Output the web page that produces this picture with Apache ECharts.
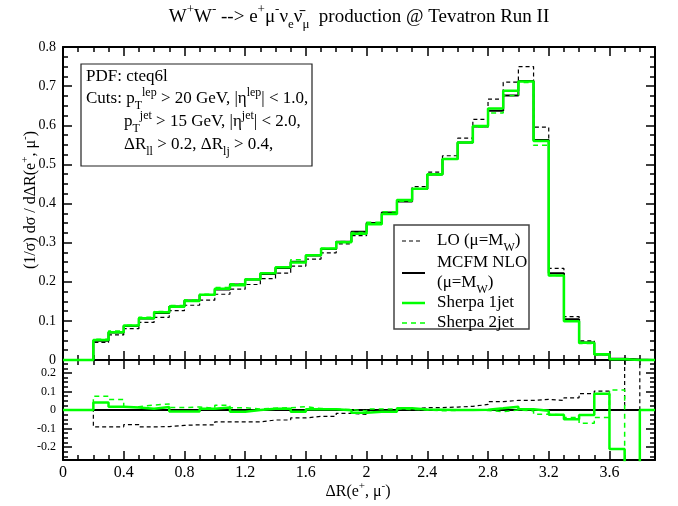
<!DOCTYPE html>
<html><head><meta charset="utf-8">
<script src="https://cdn.jsdelivr.net/npm/echarts@6/dist/echarts.min.js"></script>
<style>html,body{margin:0;padding:0;background:#fff}#c{width:678px;height:506px}</style>
</head><body><div id="c"></div>
<script>
// ---- data (bins of width 0.1 from 0 to 3.9) ----
const binEdges = [0,0.1,0.2,0.3,0.4,0.5,0.6,0.7,0.8,0.9,1.0,1.1,1.2,1.3,1.4,1.5,1.6,1.7,1.8,1.9,2.0,2.1,2.2,2.3,2.4,2.5,2.6,2.7,2.8,2.9,3.0,3.1,3.2,3.3,3.4,3.5,3.6,3.7,3.8,3.9];
const nloValues = [0,0,0.049,0.070,0.087,0.106,0.120,0.137,0.152,0.166,0.180,0.193,0.206,0.220,0.235,0.251,0.267,0.284,0.302,0.328,0.350,0.377,0.405,0.437,0.474,0.514,0.556,0.597,0.637,0.676,0.713,0.562,0.222,0.104,0.045,0.014,0.003,0.001,0];
const loValues = [0,0,0.045,0.064,0.080,0.096,0.109,0.126,0.140,0.153,0.168,0.181,0.193,0.208,0.222,0.240,0.258,0.274,0.297,0.318,0.348,0.375,0.407,0.443,0.480,0.522,0.567,0.615,0.667,0.710,0.750,0.595,0.234,0.111,0.049,0.016,0.003,0.001,0];
const sherpa1Values = [0,0,0.051,0.071,0.088,0.107,0.122,0.136,0.151,0.167,0.182,0.191,0.206,0.222,0.237,0.249,0.268,0.285,0.301,0.323,0.347,0.373,0.409,0.438,0.475,0.514,0.556,0.598,0.643,0.688,0.712,0.560,0.216,0.099,0.044,0.015,0.002,0,0];
const sherpa2Values = [0,0,0.053,0.074,0.089,0.109,0.124,0.139,0.154,0.168,0.185,0.195,0.207,0.222,0.238,0.256,0.269,0.285,0.303,0.326,0.352,0.379,0.406,0.437,0.472,0.513,0.556,0.595,0.631,0.676,0.709,0.549,0.216,0.100,0.042,0.013,0.003,0,0];
// lower panel: relative deviation from MCFM NLO
const nloRatio = [0,0,0,0,0,0,0,0,0,0,0,0,0,0,0,0,0,0,0,0,0,0,0,0,0,0,0,0,0,0,0,0,0,0,0,0,0,0,0];
const loRatio = [0,0,-0.091,-0.091,-0.079,-0.091,-0.090,-0.083,-0.080,-0.080,-0.064,-0.064,-0.064,-0.054,-0.054,-0.043,-0.034,-0.034,-0.018,-0.024,-0.005,-0.005,0.004,0.013,0.013,0.016,0.020,0.030,0.045,0.052,0.052,0.057,0.052,0.066,0.088,0.102,0.0,1.0,0.0];
const sherpa1Ratio = [0,0,0.040,0.018,0.013,0.007,0.016,-0.008,-0.008,0.007,0.013,-0.010,0.000,0.007,0.007,-0.010,0.004,0.004,-0.002,-0.015,-0.010,-0.010,0.010,0.003,0.002,0.000,0.000,0.002,0.009,0.018,0.004,-0.004,-0.025,-0.050,-0.027,0.088,-0.210,-1.0,0];
const sherpa2Ratio = [0,0,0.074,0.057,0.018,0.027,0.032,0.013,0.016,0.010,0.025,0.012,0.005,0.010,0.012,0.018,0.008,0.004,0.002,-0.005,0.006,0.006,0.003,0.000,-0.004,-0.002,0.000,-0.003,-0.009,0.000,-0.005,-0.023,-0.027,-0.040,-0.072,-0.040,0.108,-1.0,0];
// ticks
const xMajorTicks = [0,0.4,0.8,1.2,1.6,2,2.4,2.8,3.2,3.6];
const xMinorTicks = [0.1,0.2,0.3,0.5,0.6,0.7,0.9,1.0,1.1,1.3,1.4,1.5,1.7,1.8,1.9,2.1,2.2,2.3,2.5,2.6,2.7,2.9,3.0,3.1,3.3,3.4,3.5,3.7,3.8];
const ratioMajorTicks = [-0.2,-0.1,0,0.1,0.2];
const ratioMinorTicks = [-0.25,-0.225,-0.175,-0.15,-0.125,-0.075,-0.05,-0.025,0.025,0.05,0.075,0.125,0.15,0.175,0.225,0.25];

const FONT = 'Liberation Serif';
const GREEN = '#00ff00';

function steps(vals) {
  const pts = vals.map((v, i) => [binEdges[i], v]);
  pts.push([binEdges[vals.length], vals[vals.length - 1]]);
  return pts;
}

function xAx(grid, pos, ticks, len, line, labels) {
  return {
    type: 'value', gridIndex: grid, position: pos, min: 0, max: 3.9,
    axisLine: { show: line, onZero: false, lineStyle: { color: '#000', width: 2 } },
    axisTick: { show: true, inside: true, length: len, customValues: ticks, lineStyle: { color: '#000', width: 1.5 } },
    axisLabel: labels ? { show: true, customValues: xMajorTicks, fontFamily: FONT, fontSize: 16, color: '#000', margin: 5 } : { show: false },
    splitLine: { show: false }
  };
}
function yRatio(pos, ticks, len, line, labels) {
  return {
    type: 'value', gridIndex: 1, position: pos, min: -0.27, max: 0.27,
    axisLine: { show: line, onZero: false, lineStyle: { color: '#000', width: 2 } },
    axisTick: { show: true, inside: true, length: len, customValues: ticks, lineStyle: { color: '#000', width: 1.5 } },
    axisLabel: labels ? { show: true, customValues: ratioMajorTicks, fontFamily: FONT, fontSize: 12, color: '#000', margin: 7 } : { show: false },
    splitLine: { show: false }
  };
}
function yTop(pos, labels) {
  return {
    type: 'value', gridIndex: 0, position: pos, min: 0, max: 0.8, interval: 0.1,
    axisLine: { show: true, onZero: false, lineStyle: { color: '#000', width: 2 } },
    axisTick: { show: true, inside: true, length: 9, lineStyle: { color: '#000', width: 1.5 } },
    minorTick: { show: true, splitNumber: 4, length: 5, lineStyle: { color: '#000', width: 1.5 } },
    axisLabel: labels ? { show: true, fontFamily: FONT, fontSize: 14, color: '#000', margin: 7 } : { show: false },
    splitLine: { show: false }, minorSplitLine: { show: false }
  };
}

function lineSeries(name, xi, yi, vals, color, width, dash, clip, z) {
  return {
    name, type: 'line', xAxisIndex: xi, yAxisIndex: yi, step: 'end',
    data: steps(vals), showSymbol: false, symbol: 'none', clip, z,
    lineStyle: { color, width, type: dash }
  };
}

const richBase = (size) => ({
  m: { fontFamily: FONT, fontSize: size, lineHeight: Math.round(size * 1.45), verticalAlign: 'middle', fill: '#000' },
  sup: { fontFamily: FONT, fontSize: Math.round(size * 0.7), lineHeight: Math.round(size * 0.7), verticalAlign: 'top', fill: '#000' },
  sub: { fontFamily: FONT, fontSize: Math.round(size * 0.7), lineHeight: Math.round(size * 0.7), verticalAlign: 'bottom', fill: '#000' }
});
function rtext(x, y, text, size, align, rot) {
  return {
    type: 'text', x, y, rotation: rot || 0, z: 100,
    style: { text, rich: richBase(size), fill: '#000', fontFamily: FONT, fontSize: size,
      align: align, textAlign: align, verticalAlign: 'middle', textVerticalAlign: 'middle' }
  };
}
function gline(x1, y1, x2, y2, color, width, dash) {
  return { type: 'line', z: 100, shape: { x1, y1, x2, y2 }, style: { stroke: color, lineWidth: width, lineDash: dash || null } };
}

const chart = echarts.init(document.getElementById('c'), null, { renderer: 'canvas' });
chart.setOption({
  animation: false,
  backgroundColor: '#fff',
  grid: [
    { left: 63, right: 23, top: 47, height: 313 },
    { left: 63, right: 23, top: 360, height: 100 }
  ],
  xAxis: [
    xAx(0, 'bottom', xMajorTicks, 9, true, false),
    xAx(0, 'bottom', xMinorTicks, 5, false, false),
    xAx(0, 'top', xMajorTicks, 9, true, false),
    xAx(0, 'top', xMinorTicks, 5, false, false),
    xAx(1, 'bottom', xMajorTicks, 9, true, true),
    xAx(1, 'bottom', xMinorTicks, 5, false, false),
    xAx(1, 'top', xMajorTicks, 9, true, false),
    xAx(1, 'top', xMinorTicks, 5, false, false)
  ],
  yAxis: [
    yTop('left', true),
    yTop('right', false),
    yRatio('left', ratioMajorTicks, 9, true, true),
    yRatio('left', ratioMinorTicks, 5, false, false),
    yRatio('right', ratioMajorTicks, 9, true, false),
    yRatio('right', ratioMinorTicks, 5, false, false)
  ],
  series: [
    lineSeries('LO (μ=MW)', 0, 0, loValues, '#000', 1.2, [4, 3], false, 2),
    lineSeries('MCFM NLO (μ=MW)', 0, 0, nloValues, '#000', 2, 'solid', false, 3),
    lineSeries('Sherpa 2jet', 0, 0, sherpa2Values, GREEN, 1.5, [5, 4], false, 4),
    lineSeries('Sherpa 1jet', 0, 0, sherpa1Values, GREEN, 2.5, 'solid', false, 5),
    lineSeries('LO ratio', 4, 2, loRatio, '#000', 1.2, [4, 3], true, 2),
    lineSeries('NLO ratio', 4, 2, nloRatio, '#000', 2, 'solid', true, 3),
    lineSeries('Sherpa 2jet ratio', 4, 2, sherpa2Ratio, GREEN, 1.5, [5, 4], true, 4),
    lineSeries('Sherpa 1jet ratio', 4, 2, sherpa1Ratio, GREEN, 2.5, 'solid', true, 5)
  ],
  graphic: [
    // title
    rtext(359, 17, '{m|W}{sup|+}{m|W}{sup|-}{m| --> e}{sup|+}{m|μ}{sup|-}{m|ν}{sub|e}{m|ν̄}{sub|μ}{m|  production @ Tevatron Run II}', 19, 'center'),
    // axis titles
    rtext(358, 492, '{m|ΔR(e}{sup|+}{m|, μ}{sup|-}{m|)}', 16, 'center'),
    rtext(31, 200, '{m|(1/σ) dσ / dΔR(e}{sup|+}{m|, μ}{sup|-}{m|)}', 16, 'center', Math.PI / 2),
    // cuts box
    { type: 'rect', z: 99, shape: { x: 81, y: 64, width: 231, height: 102 }, style: { fill: '#fff', stroke: '#222', lineWidth: 1.2 } },
    rtext(86, 77, '{m|PDF: cteq6l}', 17, 'left'),
    rtext(86, 99, '{m|Cuts: p}{sub|T}{sup|lep}{m| > 20 GeV, |η}{sup|lep}{m|| < 1.0,}', 17, 'left'),
    rtext(124, 122, '{m|p}{sub|T}{sup|jet}{m| > 15 GeV, |η}{sup|jet}{m|| < 2.0,}', 17, 'left'),
    rtext(124, 145, '{m|ΔR}{sub|ll}{m| > 0.2, ΔR}{sub|lj}{m| > 0.4,}', 17, 'left'),
    // legend box
    { type: 'rect', z: 99, shape: { x: 394, y: 225, width: 135, height: 104 }, style: { fill: '#fff', stroke: '#444', lineWidth: 1.5 } },
    gline(402, 241, 422, 241, '#000', 1.2, [4, 3]),
    rtext(437, 241, '{m|LO (μ=M}{sub|W}{m|)}', 17, 'left'),
    gline(402, 273, 425, 273, '#000', 2),
    rtext(437, 263, '{m|MCFM NLO}', 17, 'left'),
    rtext(437, 283, '{m|(μ=M}{sub|W}{m|)}', 17, 'left'),
    gline(402, 303, 425, 303, GREEN, 2.5),
    rtext(437, 303, '{m|Sherpa 1jet}', 17, 'left'),
    gline(402, 323, 425, 323, GREEN, 1.5, [5, 4]),
    rtext(437, 323, '{m|Sherpa 2jet}', 17, 'left')
  ]
});
</script>
</body></html>
